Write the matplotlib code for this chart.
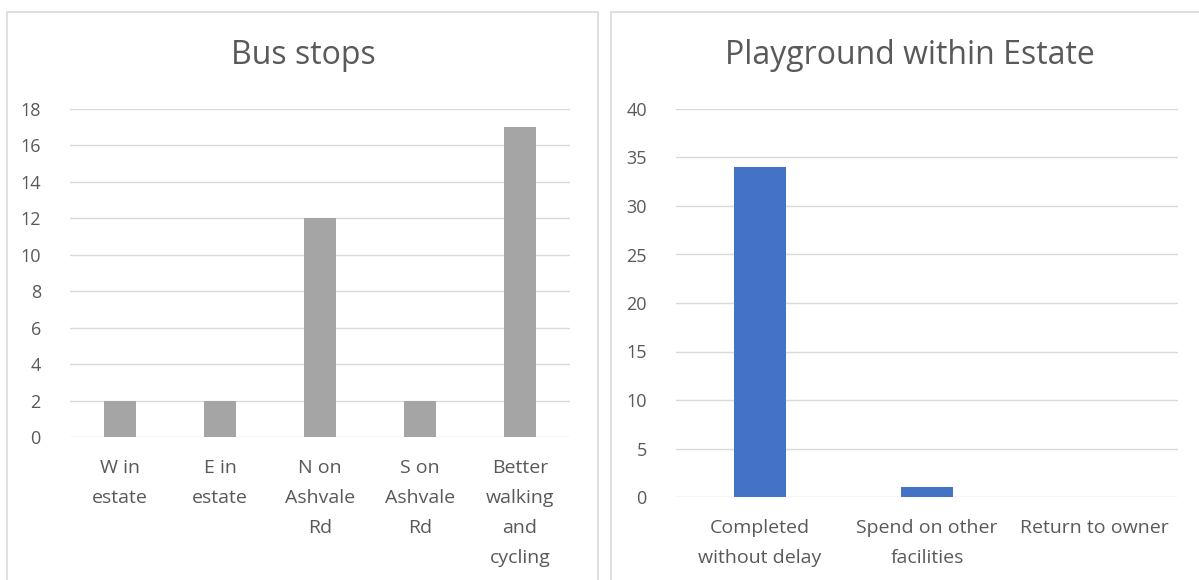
import matplotlib
matplotlib.use("Agg")
import matplotlib.pyplot as plt
from matplotlib.patches import Rectangle

plt.rcParams['font.family'] = ['Open Sans', 'DejaVu Sans']

# Bus stops survey
bus_categories = ["W in\nestate", "E in\nestate", "N on\nAshvale\nRd",
                  "S on\nAshvale\nRd", "Better\nwalking\nand\ncycling"]
bus_values = [2, 2, 12, 2, 17]
bus_ticks = [0, 2, 4, 6, 8, 10, 12, 14, 16, 18]

# Playground survey
play_categories = ["Completed\nwithout delay", "Spend on other\nfacilities",
                   "Return to owner"]
play_values = [34, 1, 0]
play_ticks = [0, 5, 10, 15, 20, 25, 30, 35, 40]

W, H = 1199, 580
fig = plt.figure(figsize=(W / 100, H / 100), dpi=100)
fig.patch.set_facecolor("white")

text_col = "#595959"
grid_col = "#D9D9D9"


def px_rect(x0, y0, x1, y1):
    """Convert pixel box (top-left origin) to figure fractions."""
    return [x0 / W, 1 - y1 / H, (x1 - x0) / W, (y1 - y0) / H]


# panel frames
for x0, x1 in [(7, 598), (611, 1205)]:
    fig.patches.append(Rectangle((x0 / W, -0.05), (x1 - x0) / W, 1 - 12 / H + 0.05,
                                 transform=fig.transFigure, fill=False,
                                 edgecolor="#D9D9D9", linewidth=1.2))


def draw_panel(rect, cats, vals, ticks, color, title, title_x, width):
    ax = fig.add_axes(px_rect(*rect))
    x = range(len(cats))
    ax.bar(x, vals, width=width, color=color, zorder=3)
    ax.set_xlim(-0.5, len(cats) - 0.5)
    ax.set_ylim(ticks[0], ticks[-1])
    ax.set_yticks(ticks)
    ax.set_xticks(list(x))
    ax.set_xticklabels(cats, fontsize=14, color=text_col, linespacing=1.85)
    ax.tick_params(axis="y", length=0, pad=21, labelsize=13, labelcolor=text_col)
    ax.tick_params(axis="x", length=0, pad=16)
    ax.grid(axis="y", color=grid_col, linewidth=1, zorder=0)
    ax.set_axisbelow(True)
    for s in ax.spines.values():
        s.set_visible(False)
    ax.set_facecolor("none")
    fig.text(title_x / W, 1 - 56 / H, title, fontsize=23, color=text_col,
             ha="center", va="center")
    return ax


draw_panel((70, 109, 570, 437), bus_categories, bus_values, bus_ticks,
           "#A5A5A5", "Bus stops", 303, 0.32)
draw_panel((676, 109, 1178, 497), play_categories, play_values, play_ticks,
           "#4472C4", "Playground within Estate", 910, 0.31)

fig.savefig("out.png", dpi=100, facecolor="white")
